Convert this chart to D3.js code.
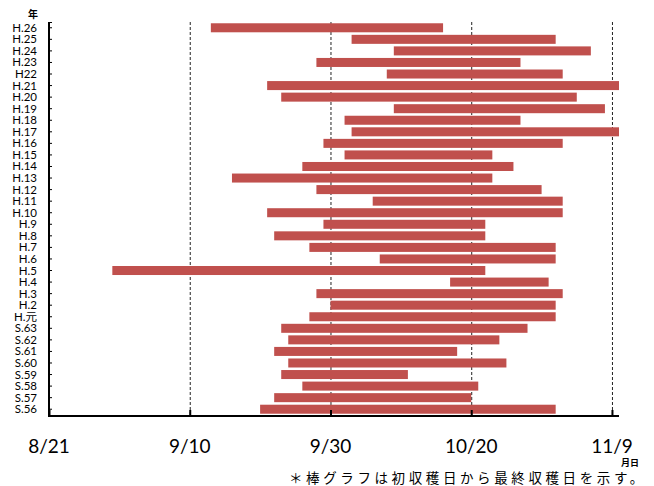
<!DOCTYPE html>
<html><head><meta charset="utf-8">
<script src="https://cdn.jsdelivr.net/npm/d3@7"></script>
<style>
html,body{margin:0;padding:0;background:#fff;}
svg{display:block;font-family:Lato,"Noto Sans CJK JP",sans-serif;}
</style></head>
<body><svg id="c" width="654" height="486"></svg>
<script>
const years = ["H.26","H.25","H.24","H.23","H22","H.21","H.20","H.19","H.18","H.17","H.16","H.15","H.14","H.13","H.12","H.11","H.10","H.9","H.8","H.7","H.6","H.5","H.4","H.3","H.2","H.元","S.63","S.62","S.61","S.60","S.59","S.58","S.57","S.56"];
const starts = ["9/13","10/3","10/9","9/28","10/8","9/21","9/23","10/9","10/2","10/3","9/29","10/2","9/26","9/16","9/28","10/6","9/21","9/29","9/22","9/27","10/7","8/30","10/17","9/28","9/30","9/27","9/23","9/24","9/22","9/24","9/23","9/26","9/22","9/20"];
const ends = ["10/16","11/1","11/6","10/27","11/2","11/10","11/4","11/8","10/27","11/10","11/2","10/23","10/26","10/23","10/30","11/2","11/2","10/22","10/22","11/1","11/1","10/22","10/31","11/2","11/1","11/1","10/28","10/24","10/18","10/25","10/11","10/21","10/20","11/1"];
const tickLabels = ["8/21","9/10","9/30","10/20","11/9"];
const domainLabels = ["8/21","11/10"];

const parse = s => d3.timeParse("%Y/%m/%d")("2000/" + s);
const svg = d3.select("#c");
const L = 49, R = 619, T = 22, B = 415;

const x = d3.scaleTime().domain(domainLabels.map(parse)).range([L, R]);
const y = d3.scaleBand().domain(years).range([T, B]).paddingInner(0.22).paddingOuter(0.11);

const data = years.map((k, i) => ({k, s: parse(starts[i]), e: parse(ends[i])}));

// grid lines
svg.append("g").selectAll("line").data(tickLabels.slice(1)).join("line")
  .attr("x1", d => x(parse(d)) + 0.5).attr("x2", d => x(parse(d)) + 0.5)
  .attr("y1", T).attr("y2", B)
  .attr("stroke", "#222").attr("stroke-width", 1).attr("stroke-dasharray", "3,2");

// bars
svg.append("g").selectAll("rect").data(data).join("rect")
  .attr("x", d => x(d.s)).attr("width", d => x(d.e) - x(d.s))
  .attr("y", d => y(d.k)).attr("height", y.bandwidth())
  .attr("fill", "#C0504D");

// x axis
const xAxis = d3.axisTop(x).tickValues(tickLabels.map(parse)).tickSize(5).tickFormat("");
const gx = svg.append("g").attr("transform", `translate(0,${B})`).call(xAxis);
gx.select(".domain").remove();
gx.selectAll(".tick line").attr("stroke", "#000").attr("stroke-width", 2);
svg.append("line").attr("x1", L - 1).attr("x2", R).attr("y1", B + 1).attr("y2", B + 1)
  .attr("stroke", "#000").attr("stroke-width", 2);

svg.append("g").selectAll("text").data(tickLabels).join("text")
  .attr("x", d => x(parse(d))).attr("y", 453)
  .attr("text-anchor", "middle").attr("font-size", 19).attr("fill", "#000")
  .text(d => d);

// y axis
const yAxis = d3.axisRight(y).tickSize(3).tickFormat("");
const gy = svg.append("g").attr("transform", `translate(${L},0)`).call(yAxis);
gy.select(".domain").remove();
gy.selectAll(".tick line").attr("stroke", "#000").attr("stroke-width", 1);
svg.append("line").attr("x1", L).attr("x2", L).attr("y1", T).attr("y2", B + 2)
  .attr("stroke", "#000").attr("stroke-width", 2);
svg.append("line").attr("x1", L).attr("x2", L + 3).attr("y1", T + 0.5).attr("y2", T + 0.5)
  .attr("stroke", "#000").attr("stroke-width", 1);

svg.append("g").selectAll("text").data(years).join("text")
  .attr("x", 37).attr("y", d => y(d) + y.bandwidth() / 2 + 4)
  .attr("text-anchor", "end").attr("font-size", 11.5).attr("fill", "#000")
  .text(d => d);

svg.append("text").attr("x", 33).attr("y", 18).attr("text-anchor", "middle")
  .attr("font-size", 10).attr("font-weight", "bold").attr("font-family", "Noto Sans CJK JP")
  .text("年");
svg.append("text").attr("x", 630).attr("y", 466).attr("text-anchor", "middle")
  .attr("font-size", 9).attr("font-weight", "bold").attr("font-family", "Noto Sans CJK JP")
  .text("月日");
svg.append("text").attr("x", 289).attr("y", 482.5)
  .attr("font-size", 13.5).attr("letter-spacing", 3.6).attr("font-family", "Noto Sans CJK JP")
  .text("＊棒グラフは初収穫日から最終収穫日を示す。");
</script></body></html>
